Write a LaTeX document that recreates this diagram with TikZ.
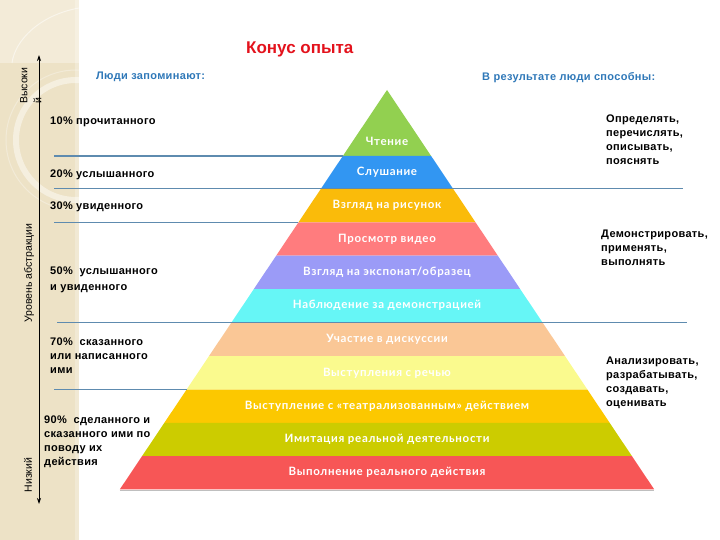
\documentclass[tikz,border=0pt]{standalone}
\usepackage{fontspec}
\setmainfont{Liberation Sans}
\newfontfamily\pyrfont{Lato}[LetterSpace=6]
\newfontfamily\labfont{Liberation Sans}[LetterSpace=3]
\usetikzlibrary{arrows.meta}
\definecolor{stripc}{HTML}{EDE2C6}
\definecolor{stripl}{HTML}{F3EBD8}
\definecolor{sepc}{HTML}{5E8BAF}
\definecolor{bluet}{HTML}{2F78B8}
\definecolor{redt}{HTML}{E3121C}
\definecolor{cA}{HTML}{92D050}
\definecolor{cB}{HTML}{3296F2}
\definecolor{cC}{HTML}{FABB0A}
\definecolor{cD}{HTML}{FF7C7E}
\definecolor{cE}{HTML}{9B9BF7}
\definecolor{cF}{HTML}{66F6F6}
\definecolor{cG}{HTML}{FAC796}
\definecolor{cH}{HTML}{FAFA8E}
\definecolor{cI}{HTML}{FCC800}
\definecolor{cJ}{HTML}{CCCC00}
\definecolor{cK}{HTML}{F75656}
\tikzset{
  lbl/.style={font=\labfont\bfseries\fontsize{11}{14}\selectfont, align=left, anchor=north west, inner sep=0pt},
  hdr/.style={font=\labfont\bfseries\fontsize{11}{13}\selectfont, text=bluet, anchor=base west, inner sep=0pt},
  vlab/.style={font=\fontsize{10.5}{14}\selectfont, rotate=90, inner sep=0pt, align=left},
  layertxt/.style={text=white, font=\pyrfont\bfseries\fontsize{11.5}{13}\selectfont, inner sep=0pt},
  sep/.style={draw=sepc, line width=1.1pt},
}
\begin{document}
\begin{tikzpicture}[x=1pt,y=-1pt]
\useasboundingbox (0,0) rectangle (720,540);
% left decorative strip
\fill[stripc] (0,0) rectangle (79,540);
\begin{scope}
  \clip (0,0) rectangle (79,540);
  \fill[stripl] (0,0) rectangle (79,63);
  \draw[white, opacity=0.5, line width=1pt] (79,8) .. controls (40,15) and (15,40) .. (12,63);
  \draw[white, opacity=0.45, line width=6pt] (76,140) circle (60);
  \draw[white, opacity=0.3, line width=1pt] (76,140) circle (70);
  \fill[white, opacity=0.25] (75,0) rectangle (79,540);
\end{scope}
% vertical arrow
\coordinate (atop) at (39,55);
\coordinate (abot) at (39,504);
\draw[{Stealth[length=6pt,width=4pt]}-{Stealth[length=6pt,width=4pt]}, line width=0.8pt] (atop) -- (abot);
\node[vlab, anchor=north west] (vhigh) at (20,104) {Высоки\\й};
\node[vlab] (vmid) at (29,273) {Уровень абстракции};
\node[vlab] (vlow) at (28,475) {Низкий};
% title and headers
\node[font=\bfseries\fontsize{17}{20}\selectfont, text=redt, anchor=base west, inner sep=0pt] (title) at (246,53.5) {Конус опыта};
\node[hdr] (hleft) at (96,79.3) {Люди запоминают:};
\node[hdr] (hright) at (482,80.7) {В результате люди способны:};
% pyramid
\def\k{0.669}
\fill[cA] (387,90) -- ({387+\k*66},156) -- ({387-\k*66},156) -- cycle;
\node[layertxt] (L1) at (387,141) {Чтение};
\foreach \i/\t/\b/\c/\txt in {
  2/156/188.6/cB/{Слушание},
  3/188.6/222.4/cC/{Взгляд на рисунок},
  4/222.4/255.7/cD/{Просмотр видео},
  5/255.7/289/cE/{Взгляд на экспонат/образец},
  6/289/322.3/cF/{Наблюдение за демонстрацией},
  7/322.3/356.2/cG/{Участие в дискуссии},
  8/356.2/389.5/cH/{Выступления с речью},
  9/389.5/422.8/cI/{Выступление с «театрализованным» действием},
  10/422.8/456/cJ/{Имитация реальной деятельности},
  11/456/489.3/cK/{Выполнение реального действия}}{
  \fill[\c] ({387-\k*(\t-90)},\t) -- ({387+\k*(\t-90)},\t) -- ({387+\k*(\b-90)},\b) -- ({387-\k*(\b-90)},\b) -- cycle;
  \node[layertxt] (L\i) at (387,{(\t+\b)/2}) {\txt};
}
\draw[black!25, line width=1pt] ({387-\k*399.3},490.3) -- ({387+\k*399.3},490.3);
% separator lines
\draw[sep] (54,156) -- ({387-\k*66},156);
\draw[sep] (54,188.6) -- (683,188.6);
\draw[sep] (54,222.4) -- ({387-\k*132.4},222.4);
\draw[sep] (57,322.3) -- (687,322.3);
\draw[sep] (54,389.5) -- ({387-\k*299.5},389.5);
% left labels
\node[lbl] (m10) at (50,116.5) {10\% прочитанного};
\node[lbl] (m20) at (50,169.3) {20\% услышанного};
\node[lbl] (m30) at (50,201.7) {30\% увиденного};
\node[lbl, font=\labfont\bfseries\fontsize{11}{16}\selectfont] (m50) at (50,266.7) {50\%~ услышанного\\и увиденного};
\node[lbl] (m70) at (50,337.3) {70\%~ сказанного\\или написанного\\ими};
\node[lbl] (m90) at (44,416) {90\%~ сделанного и\\сказанного ими по\\поводу их\\действия};
% right labels
\node[lbl] (r1) at (606,115) {Определять,\\перечислять,\\описывать,\\пояснять};
\node[lbl] (r2) at (601,229.3) {Демонстрировать,\\применять,\\выполнять};
\node[lbl] (r3) at (606,356.7) {Анализировать,\\разрабатывать,\\создавать,\\оценивать};
\end{tikzpicture}
\end{document}
